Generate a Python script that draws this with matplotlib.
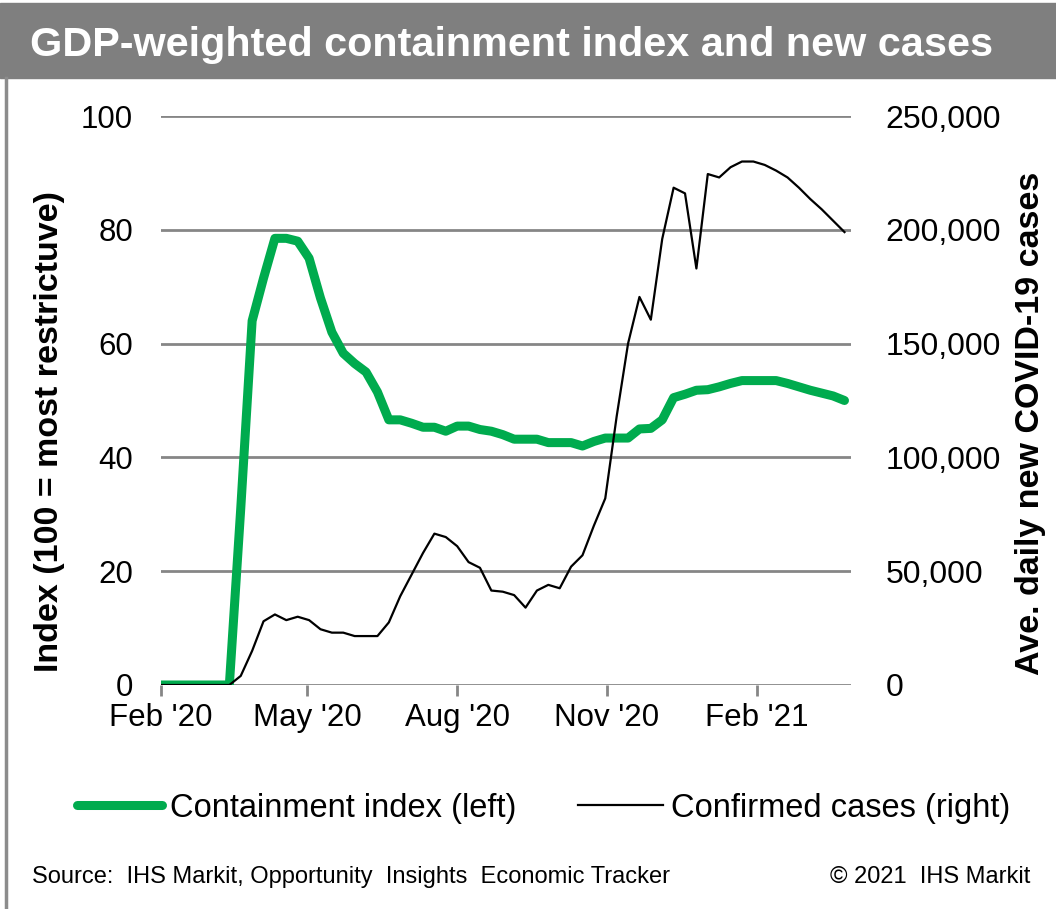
import datetime as dt
import matplotlib
matplotlib.use("Agg")
import matplotlib.pyplot as plt
from matplotlib.ticker import FuncFormatter
from matplotlib.patches import Rectangle
from matplotlib.lines import Line2D

plt.rcParams['font.family'] = ['Liberation Sans', 'DejaVu Sans']

# weekly observations from 1 Feb 2020
start = dt.date(2020, 2, 1)
weeks = [start + dt.timedelta(days=7 * i) for i in range(61)]

containment = [0, 0, 0, 0, 0, 0, 0, 31, 64, 71.5, 78.5, 78.5, 78, 75,
               68, 62, 58.3, 56.5, 55, 51.5, 46.6, 46.6, 46, 45.3, 45.3, 44.6,
               45.5, 45.5, 44.9, 44.6, 44.0, 43.2, 43.2, 43.2, 42.6, 42.6, 42.6,
               42.0, 42.8, 43.4, 43.4, 43.4, 45.0, 45.1, 46.6, 50.5, 51.1, 51.8,
               51.9, 52.4, 53.0, 53.5, 53.5, 53.5, 53.5, 53.0, 52.4, 51.8, 51.3,
               50.8, 50.0]

cases = [0, 0, 0, 0, 0, 0, 0, 4000, 15000, 28000, 31000, 28500, 30000,
         28500, 24500, 23000, 23000, 21500, 21500, 21500, 27500, 39000, 48500,
         58000, 66500, 65000, 61000, 54000, 51500, 41500, 41000, 39500, 34000,
         41500, 44000, 42500, 52000, 57000, 70000, 82000, 118000, 150000,
         170500, 160500, 196000, 218500, 216000, 183000, 224500, 223000,
         227500, 230000, 230000, 228500, 226000, 223000, 218500, 213500,
         209000, 204000, 199000]

tick_dates = [dt.date(2020, 2, 1), dt.date(2020, 5, 1), dt.date(2020, 8, 1),
              dt.date(2020, 11, 1), dt.date(2021, 2, 1)]
tick_labels = ["Feb '20", "May '20", "Aug '20", "Nov '20", "Feb '21"]

GREEN = '#00ab4e'
GRID = '#868686'

fig = plt.figure(figsize=(10.56, 9.09), dpi=100)

# title banner
fig.patches.append(Rectangle((0, 1 - 78 / 909), 1, 78 / 909 - 3 / 909,
                             transform=fig.transFigure, color='#7f7f7f', zorder=0))
fig.text(30 / 1056, 1 - 45 / 909, 'GDP-weighted containment index and new cases',
         color='white', fontsize=29.8, fontweight='bold', va='center', ha='left')
fig.lines.append(Line2D([6 / 1056, 6 / 1056], [0, 1 - 78 / 909],
                        transform=fig.transFigure, color='#8c8c8c', lw=2.5))

ax = fig.add_axes([161 / 1056, 1 - 685 / 909, 690 / 1056, 569 / 909])
ax2 = ax.twinx()

ax.plot(weeks, containment, color=GREEN, lw=6.5, solid_capstyle='round',
        label='Containment index (left)', zorder=3)
ax2.plot(weeks, cases, color='black', lw=1.6, label='Confirmed cases (right)',
         zorder=4)

ax.set_ylim(0, 100)
ax.set_yticks(range(0, 101, 20))
ax2.set_ylim(0, 250000)
ax2.set_yticks(range(0, 250001, 50000))
ax2.yaxis.set_major_formatter(FuncFormatter(lambda v, p: f'{int(v):,}'))
ax.set_xlim(start, start + dt.timedelta(days=424))
ax.set_xticks(tick_dates)
ax.set_xticklabels(tick_labels)

ax.grid(axis='y', color=GRID, lw=2)
ax.set_axisbelow(True)
for a in (ax, ax2):
    for s in ('left', 'right', 'top', 'bottom'):
        a.spines[s].set_visible(False)
ax.tick_params(axis='y', length=0, labelsize=22.5, pad=20)
ax2.tick_params(axis='y', length=0, labelsize=23, pad=25)
ax.tick_params(axis='x', length=8, width=2, color=GRID, labelsize=22.5, pad=5)
# cases line sits above containment line
ax2.set_zorder(ax.get_zorder() + 1)
ax2.patch.set_visible(False)

fig.text(50 / 1056, 1 - 432 / 909, 'Index (100 = most restrictuve)', rotation=90,
         fontsize=24.5, fontweight='bold', ha='center', va='center')
fig.text(1031 / 1056, 1 - 423 / 909, 'Ave. daily new COVID-19 cases', rotation=90,
         fontsize=24.5, fontweight='bold', ha='center', va='center')

h1, l1 = ax.get_legend_handles_labels()
h2, l2 = ax2.get_legend_handles_labels()
fig.legend(h1 + h2, l1 + l2, loc='center left', ncol=2, frameon=False,
           bbox_to_anchor=(64 / 1056, 1 - 808 / 909), fontsize=23.5,
           handlelength=2.6, handletextpad=0.25, columnspacing=1.9,
           borderaxespad=0)

fig.text(32 / 1056, 1 - 877 / 909,
         'Source:  IHS Markit, Opportunity  Insights  Economic Tracker',
         fontsize=17, ha='left', va='center')
fig.text(1030 / 1056, 1 - 877 / 909, '\u00a9 2021  IHS Markit', fontsize=17,
         ha='right', va='center')

fig.savefig('out.png', dpi=100)
